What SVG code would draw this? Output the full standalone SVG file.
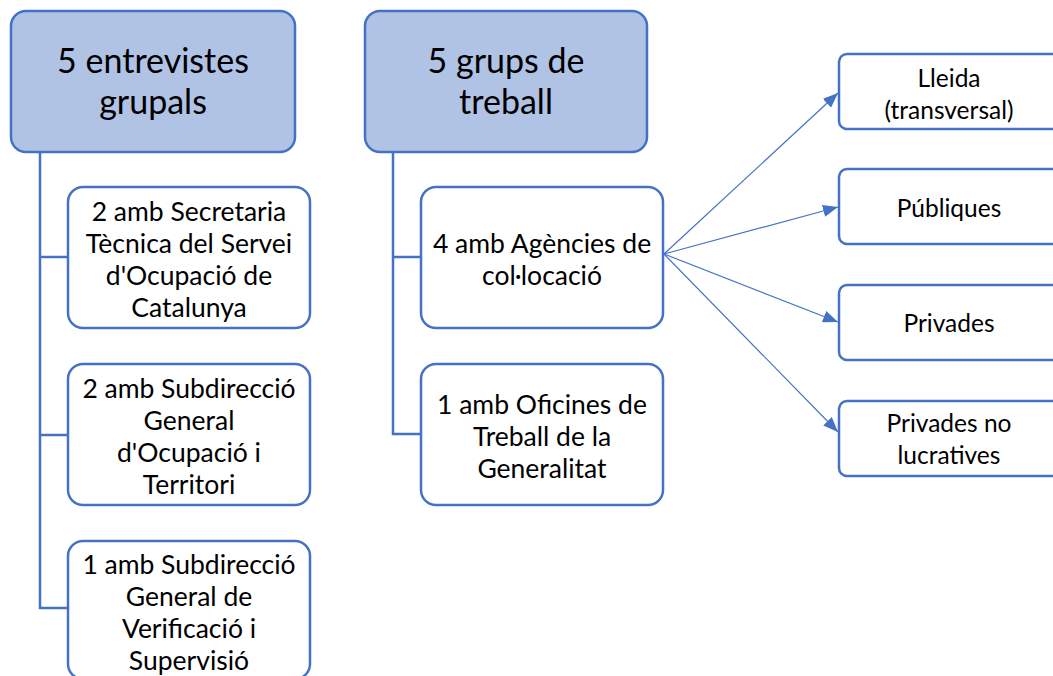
<svg xmlns="http://www.w3.org/2000/svg" width="1053" height="676" viewBox="0 0 1053 676">
<defs>
<marker id="ah" viewBox="0 0 15 12" refX="15" refY="6" markerWidth="15" markerHeight="12" markerUnits="userSpaceOnUse" orient="auto"><path d="M0,0 L15,6 L0,12 z" fill="#4472C4"/></marker>
<style>
.top{fill:#B0C3E5;stroke:#4472C4;stroke-width:2.5}
.box{fill:#fff;stroke:#4472C4;stroke-width:2.5}
.t{font-family:Lato,"Noto Sans",sans-serif;fill:#000;text-anchor:middle}
.big{font-size:34px}
.mid{font-size:26.5px}
.sm{font-size:24.5px}
.line{fill:none;stroke:#4472C4;stroke-width:2.5}
.arr{fill:none;stroke:#4472C4;stroke-width:1.2}
</style>
</defs>
<rect width="1053" height="676" fill="#fff"/>
<g id="connectors">
<path class="line" d="M40,152 V257 H68 M40,257 V435 H68 M40,435 V608 H68"/>
<path class="line" d="M393,152 V257 H421 M393,257 V434 H421"/>
<line class="arr" x1="664" y1="254" x2="838" y2="93" marker-end="url(#ah)"/>
<line class="arr" x1="664" y1="254" x2="838" y2="207" marker-end="url(#ah)"/>
<line class="arr" x1="664" y1="254" x2="838" y2="322" marker-end="url(#ah)"/>
<line class="arr" x1="664" y1="254" x2="838" y2="432" marker-end="url(#ah)"/>
</g>
<g id="n1">
<rect class="top" x="11" y="11" width="284" height="141" rx="15"/>
<text class="t big" x="153" y="73">5 entrevistes</text>
<text class="t big" x="153" y="114">grupals</text>
</g>
<g id="n2">
<rect class="box" x="68" y="187" width="242" height="141" rx="15"/>
<text class="t mid" x="189" y="221">2 amb Secretaria</text>
<text class="t mid" x="189" y="253">Tècnica del Servei</text>
<text class="t mid" x="189" y="285">d'Ocupació de</text>
<text class="t mid" x="189" y="317">Catalunya</text>
</g>
<g id="n3">
<rect class="box" x="68" y="364" width="242" height="141" rx="15"/>
<text class="t mid" x="189" y="398">2 amb Subdirecció</text>
<text class="t mid" x="189" y="430">General</text>
<text class="t mid" x="189" y="462">d'Ocupació i</text>
<text class="t mid" x="189" y="494">Territori</text>
</g>
<g id="n4">
<rect class="box" x="68" y="541" width="242" height="138" rx="15"/>
<text class="t mid" x="189" y="574">1 amb Subdirecció</text>
<text class="t mid" x="189" y="606">General de</text>
<text class="t mid" x="189" y="638">Verificació i</text>
<text class="t mid" x="189" y="670">Supervisió</text>
</g>
<g id="n5">
<rect class="top" x="365" y="11" width="282" height="141" rx="15"/>
<text class="t big" x="506" y="73">5 grups de</text>
<text class="t big" x="506" y="114">treball</text>
</g>
<g id="n6">
<rect class="box" x="421" y="187" width="242" height="141" rx="15"/>
<text class="t mid" x="542" y="253">4 amb Agències de</text>
<text class="t mid" x="542" y="285">col·locació</text>
</g>
<g id="n7">
<rect class="box" x="421" y="364" width="242" height="141" rx="15"/>
<text class="t mid" x="542" y="414">1 amb Oficines de</text>
<text class="t mid" x="542" y="446">Treball de la</text>
<text class="t mid" x="542" y="478">Generalitat</text>
</g>
<g id="n8">
<rect class="box" x="839" y="54" width="230" height="75" rx="8"/>
<text class="t sm" x="949" y="87">Lleida</text>
<text class="t sm" x="949" y="119">(transversal)</text>
</g>
<g id="n9">
<rect class="box" x="839" y="169" width="230" height="75" rx="8"/>
<text class="t sm" x="949" y="217">Públiques</text>
</g>
<g id="n10">
<rect class="box" x="839" y="285" width="230" height="75" rx="8"/>
<text class="t sm" x="949" y="332">Privades</text>
</g>
<g id="n11">
<rect class="box" x="839" y="401" width="230" height="75" rx="8"/>
<text class="t sm" x="949" y="432">Privades no</text>
<text class="t sm" x="949" y="464">lucratives</text>
</g>
</svg>
